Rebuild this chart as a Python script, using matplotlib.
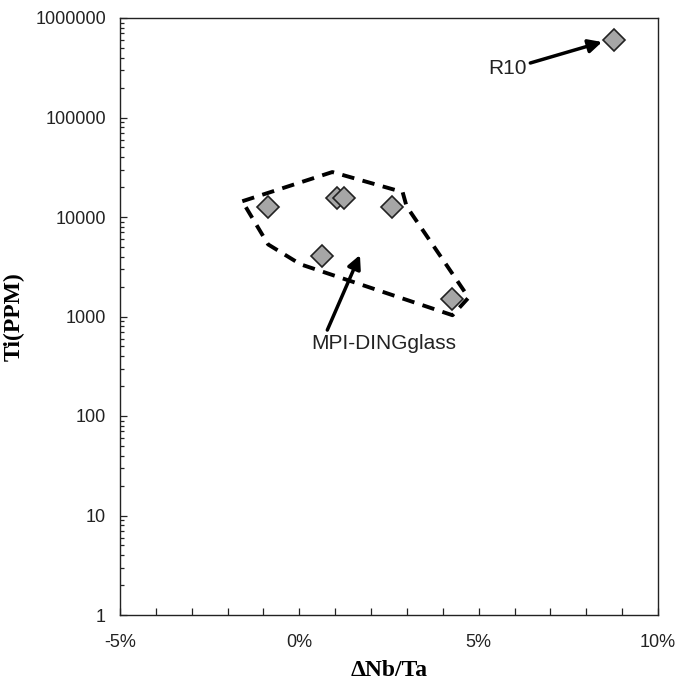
import matplotlib
matplotlib.use("Agg")
import matplotlib.pyplot as plt
from matplotlib.ticker import FixedLocator, LogLocator, NullFormatter

# Data (x in %, y in ppm)
mpi_x = [-0.86, 1.06, 1.25, 2.58, 0.64, 4.27]
mpi_y = [12600, 15500, 15500, 12600, 4050, 1500]
r10_x = [8.78]
r10_y = [600000]

# Dashed outline around MPI-DING glass field
field_x = [-1.59, 0.92, 2.88, 2.99, 4.72, 4.27, 0.03, -0.87, -1.59]
field_y = [14400, 28300, 17800, 12800, 1550, 1030, 3350, 5300, 14400]

x_ticks = [-5, 0, 5, 10]
x_ticklabels = ["-5%", "0%", "5%", "10%"]
y_ticks = [1, 10, 100, 1000, 10000, 100000, 1000000]
y_ticklabels = ["1", "10", "100", "1000", "10000", "100000", "1000000"]

fig = plt.figure(figsize=(6.75, 6.83), dpi=100)
ax = fig.add_axes([120/675, (683-615)/683, (658-120)/675, (615-18)/683])

ax.set_yscale("log")
ax.set_xlim(-5, 10)
ax.set_ylim(1, 1000000)

ax.plot(field_x, field_y, color="black", lw=2.8, linestyle=(0, (3.2, 2.2)),
        solid_capstyle="butt", dash_capstyle="butt", zorder=2)

ax.plot(mpi_x, mpi_y, linestyle="none", marker="D", markersize=11,
        markerfacecolor="#a6a6a6", markeredgecolor="#222222", markeredgewidth=1.2, zorder=3)
ax.plot(r10_x, r10_y, linestyle="none", marker="D", markersize=11,
        markerfacecolor="#a6a6a6", markeredgecolor="#222222", markeredgewidth=1.2, zorder=3)

afont = dict(family="Liberation Sans", size=15)
ax.annotate("", xy=(1.69, 4150), xytext=(0.78, 731),
            arrowprops=dict(arrowstyle="-|>", lw=2.5, color="black", mutation_scale=20,
                            shrinkA=0, shrinkB=0), zorder=4)
ax.text(2.36, 540, "MPI-DINGglass", ha="center", va="center", color="#222222", **afont)

ax.annotate("", xy=(8.44, 574000), xytext=(6.44, 353000),
            arrowprops=dict(arrowstyle="-|>", lw=2.5, color="black", mutation_scale=20,
                            shrinkA=0, shrinkB=0), zorder=4)
ax.text(6.33, 314000, "R10", ha="right", va="center", color="#222222", **afont)

tfont = dict(family="Liberation Sans", size=13)
ax.xaxis.set_major_locator(FixedLocator(x_ticks))
ax.set_xticklabels(x_ticklabels, **tfont)
ax.xaxis.set_minor_locator(FixedLocator([v for v in range(-4, 10) if v % 5 != 0]))
ax.yaxis.set_major_locator(FixedLocator(y_ticks))
ax.set_yticklabels(y_ticklabels, **tfont)
ax.yaxis.set_minor_locator(LogLocator(base=10, subs=range(2, 10), numticks=20))
ax.yaxis.set_minor_formatter(NullFormatter())

ax.tick_params(axis="both", which="both", direction="in", top=False, right=False,
               colors="#222222", width=0.9)
ax.tick_params(axis="x", which="both", length=5, pad=14)
ax.tick_params(axis="y", which="major", length=5, pad=10)
ax.tick_params(axis="y", which="minor", length=3)

for s in ax.spines.values():
    s.set_linewidth(1.0)
    s.set_color("#222222")

lfont = dict(family="Liberation Serif", size=17, weight="bold")
ax.set_xlabel("ΔNb/Ta", labelpad=6, **lfont)
ax.set_ylabel("Ti(PPM)", labelpad=8, **lfont)

fig.savefig("out.png", dpi=100)
